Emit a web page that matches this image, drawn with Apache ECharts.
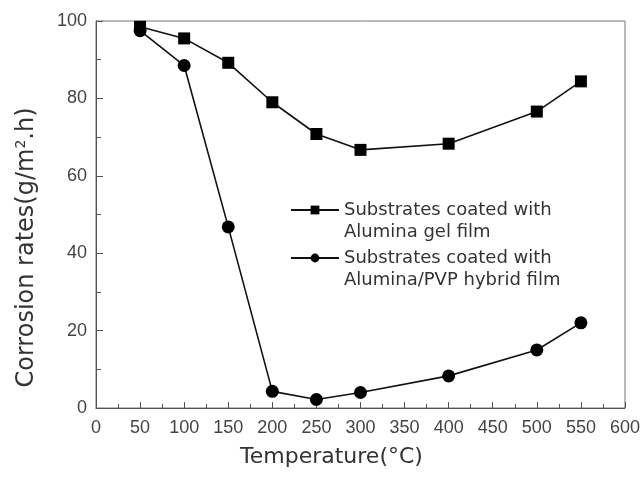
<!DOCTYPE html>
<html style="height: 100%">
<head>
    <meta charset="UTF-8">
    <script type="text/javascript" src="https://cdn.jsdelivr.net/npm/echarts@6/dist/echarts.min.js"></script>
    <style type="text/css">
        body {margin:0; padding:0; overflow:hidden; height: 100%; background: #fff}
    </style>
</head>
<body>
    <div id="container" style="width:643px;height:478px"></div>
<script>
    var temps = [50, 100, 150, 200, 250, 300, 400, 500, 550];
    var gelFilm = [98.5, 95.5, 89.2, 79, 70.8, 66.7, 68.3, 76.6, 84.4];
    var hybridFilm = [97.5, 88.5, 46.8, 4.3, 2.2, 4, 8.3, 15, 22];
    var seriesNames = ['Substrates coated with\nAlumina gel film', 'Substrates coated with\nAlumina/PVP hybrid film'];

    function pairs(ys) {
        return temps.map(function (t, i) { return [t, ys[i]]; });
    }

    var myChart = echarts.init(document.getElementById('container'));
    var tickFont = 'Liberation Sans, Arial, sans-serif';
    var wideFont = 'DejaVu Sans, sans-serif';

    // legend text gets an empty first line so the icon sits level with "Substrates..."
    function legendFor(name, top) {
        return {
            orient: 'vertical',
            left: 290,
            top: top,
            padding: 0,
            itemWidth: 48,
            itemHeight: 11,
            formatter: function (n) { return ' \n' + n; },
            textStyle: { fontSize: 18, color: '#333', lineHeight: 22, fontFamily: wideFont },
            data: [name]
        };
    }

    var option = {
        animation: false,
        textStyle: { fontFamily: tickFont },
        grid: {
            left: 96, right: 16, top: 21, bottom: 70,
            show: true,
            borderColor: '#777',
            borderWidth: 1
        },
        legend: [legendFor(seriesNames[0], 177), legendFor(seriesNames[1], 225)],
        xAxis: {
            type: 'value',
            min: 0, max: 600, interval: 50,
            name: 'Temperature(°C)',
            nameLocation: 'middle',
            nameGap: 38,
            nameTextStyle: { fontSize: 22, color: '#333', fontFamily: wideFont, padding: [0, 58, 0, 0] },
            axisLine: { lineStyle: { color: '#555' } },
            axisTick: { inside: true, length: 6, lineStyle: { color: '#555' } },
            minorTick: { show: true, splitNumber: 2, length: 4, lineStyle: { color: '#555' } },
            splitLine: { show: false },
            axisLabel: { fontSize: 18, color: '#444', margin: 11 }
        },
        yAxis: {
            type: 'value',
            min: 0, max: 100, interval: 20,
            name: 'Corrosion rates(g/m{sup|2}.h)',
            nameLocation: 'middle',
            nameGap: 56,
            nameTextStyle: {
                fontSize: 24, color: '#333', fontFamily: wideFont,
                padding: [0, 66, 0, 0],
                rich: { sup: { fontSize: 14, color: '#333', fontFamily: wideFont, verticalAlign: 'top', padding: [0, 0, 12, 0] } }
            },
            axisLine: { show: true, lineStyle: { color: '#555' } },
            axisTick: { show: true, inside: true, length: 7, lineStyle: { color: '#555' } },
            minorTick: { show: true, splitNumber: 2, length: 5, lineStyle: { color: '#555' } },
            splitLine: { show: false },
            axisLabel: { fontSize: 18, color: '#444', margin: 9 }
        },
        series: [
            {
                name: seriesNames[0],
                type: 'line',
                data: pairs(gelFilm),
                symbol: 'rect',
                symbolSize: 12,
                itemStyle: { color: '#000' },
                lineStyle: { color: '#111', width: 1.6 }
            },
            {
                name: seriesNames[1],
                type: 'line',
                data: pairs(hybridFilm),
                symbol: 'circle',
                symbolSize: 13,
                itemStyle: { color: '#000' },
                lineStyle: { color: '#111', width: 1.6 }
            }
        ]
    };
    myChart.setOption(option);
</script>
</body>
</html>
